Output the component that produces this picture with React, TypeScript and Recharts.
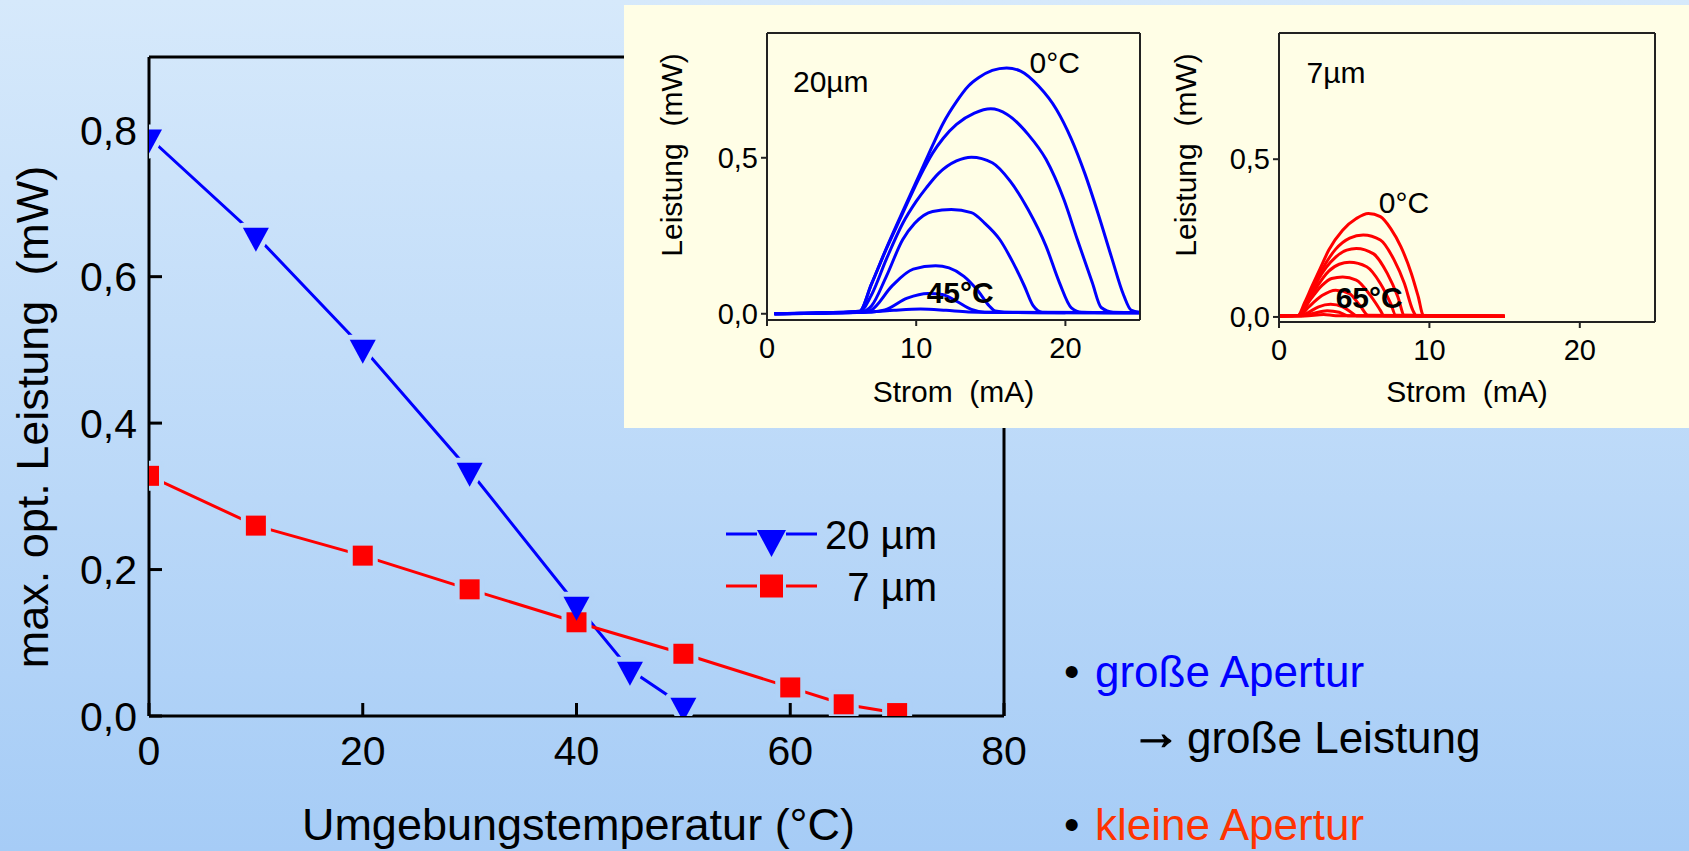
import React from "react";
import { LineChart, Line, XAxis, YAxis, Legend, ReferenceDot } from "recharts";

const FONT = '"Liberation Sans", Arial, Helvetica, sans-serif';
const BLUE = "#0000ff";
const RED = "#ff0000";

// main plot: max. optical power vs ambient temperature
const temps20 = [0, 10, 20, 30, 40, 45, 50];
const power20 = [0.79, 0.656, 0.503, 0.335, 0.152, 0.063, 0.014];
const temps7 = [0, 10, 20, 30, 40, 50, 60, 65, 70];
const power7 = [0.328, 0.26, 0.219, 0.173, 0.128, 0.085, 0.039, 0.016, 0.004];

const tempTicks = [0, 20, 40, 60, 80];
const tempMinor = [10, 30, 50, 70];
const powerTicks = [0, 0.2, 0.4, 0.6, 0.8];
const powerMinor = [0.1, 0.3, 0.5, 0.7];

// inset curves, [current mA, power mW], 20 µm aperture at 0..50 °C
const c20_0 = [[0.5, 0], [3, 0.002], [6.2, 0.008], [7, 0.095], [8, 0.21], [9, 0.318], [10.3, 0.455], [11.1, 0.54], [11.8, 0.61], [12.7, 0.68], [13.5, 0.73], [14.2, 0.757], [15.1, 0.78], [16.06, 0.788], [17, 0.778], [18.2, 0.73], [19.4, 0.655], [20.4, 0.56], [21.3, 0.45], [22.2, 0.32], [23.1, 0.18], [23.9, 0.06], [24.4, 0.012], [25, 0.005]];
const c20_10 = [[0.5, 0], [3, 0.002], [6.2, 0.008], [7, 0.095], [8, 0.208], [9, 0.312], [10.3, 0.445], [11.1, 0.515], [11.8, 0.562], [12.7, 0.607], [13.9, 0.643], [15, 0.657], [16.1, 0.639], [17.5, 0.575], [18.7, 0.495], [19.9, 0.366], [20.8, 0.238], [21.8, 0.1], [22.4, 0.02], [23.2, 0.005], [25, 0.004]];
const c20_20 = [[0.5, 0], [3, 0.002], [6.2, 0.006], [7, 0.06], [8, 0.175], [9.1, 0.29], [10, 0.36], [10.7, 0.405], [11.5, 0.45], [12.7, 0.49], [13.7, 0.502], [15.1, 0.484], [16.3, 0.425], [17.5, 0.334], [18.7, 0.217], [19.6, 0.1], [20.4, 0.019], [21.1, 0.005], [25, 0.003]];
const c20_30 = [[0.5, 0], [3, 0.002], [6.3, 0.006], [7, 0.025], [8, 0.12], [9.1, 0.238], [9.9, 0.29], [11.1, 0.328], [12.35, 0.334], [13.7, 0.324], [14.6, 0.29], [15.6, 0.238], [16.5, 0.163], [17.25, 0.089], [17.85, 0.025], [18.45, 0.005], [25, 0.003]];
const c20_40 = [[0.5, 0], [3, 0.002], [6.5, 0.005], [7, 0.012], [8.4, 0.09], [9.8, 0.143], [11.3, 0.154], [12.2, 0.147], [13.2, 0.12], [14.15, 0.073], [14.9, 0.025], [15.3, 0.009], [16.5, 0.004], [25, 0.003]];
const c20_45 = [[0.5, 0], [3, 0.002], [7, 0.006], [7.9, 0.012], [9.4, 0.05], [10.8, 0.065], [11.75, 0.062], [12.7, 0.04], [13.7, 0.014], [14.6, 0.005], [25, 0.003]];
const c20_50 = [[0.5, 0], [3, 0.002], [7, 0.006], [8.5, 0.011], [10.3, 0.015], [12, 0.011], [13.5, 0.006], [20, 0.003]];

// 7 µm aperture at 0..70 °C
const c7_0 = [[0, 0.003], [1.26, 0.005], [1.7, 0.045], [2.17, 0.095], [2.75, 0.155], [3.31, 0.212], [4.23, 0.275], [5.14, 0.312], [5.94, 0.328], [6.74, 0.318], [7.43, 0.28], [8.11, 0.222], [8.8, 0.138], [9.26, 0.064], [9.6, 0.005], [15, 0.002]];
const c7_10 = [[0, 0.003], [1.26, 0.005], [2.17, 0.085], [2.86, 0.15], [3.77, 0.215], [4.7, 0.25], [5.6, 0.26], [6.74, 0.244], [7.66, 0.18], [8.34, 0.106], [8.9, 0.021], [9.14, 0.004], [15, 0.002]];
const c7_20 = [[0, 0.003], [1.3, 0.005], [2.17, 0.075], [2.63, 0.12], [3.77, 0.19], [4.5, 0.212], [5.14, 0.217], [6.29, 0.2], [7.2, 0.138], [7.9, 0.064], [8.34, 0.005], [15, 0.002]];
const c7_30 = [[0, 0.003], [1.3, 0.005], [2.17, 0.07], [3.31, 0.145], [4.0, 0.167], [4.69, 0.173], [5.83, 0.159], [6.74, 0.106], [7.43, 0.042], [7.77, 0.005], [15, 0.002]];
const c7_40 = [[0, 0.003], [1.35, 0.005], [1.94, 0.045], [2.86, 0.1], [3.5, 0.122], [4.23, 0.127], [5.14, 0.117], [6.06, 0.069], [6.74, 0.021], [6.97, 0.004], [15, 0.002]];
const c7_50 = [[0, 0.003], [1.4, 0.005], [1.94, 0.03], [2.86, 0.068], [3.77, 0.085], [4.69, 0.074], [5.37, 0.037], [5.94, 0.005], [15, 0.002]];
const c7_60 = [[0, 0.003], [1.5, 0.004], [1.94, 0.014], [2.63, 0.032], [3.43, 0.04], [4.23, 0.032], [4.91, 0.011], [5.14, 0.004], [15, 0.002]];
const c7_65 = [[0, 0.003], [1.6, 0.004], [2.2, 0.01], [3.2, 0.02], [4.0, 0.015], [4.57, 0.004], [15, 0.002]];
const c7_70 = [[0, 0.003], [1.7, 0.003], [2.97, 0.008], [3.77, 0.004], [15, 0.002]];

const curves20 = [c20_0, c20_10, c20_20, c20_30, c20_40, c20_45, c20_50];
const curves7 = [c7_0, c7_10, c7_20, c7_30, c7_40, c7_50, c7_60, c7_65, c7_70];

const currentTicks = [0, 10, 20];
const currentMinor = [5, 15, 25];
const insetTicks = [0, 0.5];
const insetMinor = [0.25, 0.75];

const data20 = temps20.map((t, i) => ({ t, p: power20[i] }));
const data7 = temps7.map((t, i) => ({ t, p: power7[i] }));
const pts = (pairs: number[][]) => pairs.map(([i, p]) => ({ i, p }));

const comma = (v: number) => v.toFixed(1).replace(".", ",");

// page background gradient, also used for the gaps around markers
const BG0 = [214, 233, 251];
const BG1 = [166, 204, 246];
function bgAt(y: number) {
  const t = Math.max(0, Math.min(1, y / 851));
  return `rgb(${BG0.map((v, k) => Math.round(v + (BG1[k] - v) * t)).join(",")})`;
}

const triPts = (cx: number, cy: number, w: number, h: number) =>
  `${cx - w / 2},${cy - h / 3} ${cx + w / 2},${cy - h / 3} ${cx},${cy + (2 * h) / 3}`;

const triHalo = (p: any) => {
  const c = bgAt(p.cy);
  return <polygon key={`th${p.index}`} points={triPts(p.cx, p.cy, 26, 24)} fill={c} stroke={c} strokeWidth={10} strokeLinejoin="round" />;
};
const triDot = (p: any) => <polygon key={`t${p.index}`} points={triPts(p.cx, p.cy, 26, 24)} fill={BLUE} />;
const sqHalo = (p: any) => {
  const c = bgAt(p.cy);
  return <rect key={`sh${p.index}`} x={p.cx - 10} y={p.cy - 10} width={20} height={20} fill={c} stroke={c} strokeWidth={10} strokeLinejoin="round" />;
};
const sqDot = (p: any) => <rect key={`s${p.index}`} x={p.cx - 10} y={p.cy - 10} width={20} height={20} fill={RED} />;

type FrameOpts = {
  xKey: string;
  xDomain: [number, number];
  yDomain: [number, number];
  xMajor: number[];
  xMinor: number[];
  yMajor: number[];
  yMinor: number[];
  stroke: string;
  sw: number;
  major: number;
  minor: number;
  outward: boolean;
  fontSize: number;
  xMargin: number;
  yMargin: number;
  xLabel: any;
  yLabel: any;
};

// box frame: labelled bottom/left axes, plain top/right axes, minor ticks on all four sides
function frame(o: FrameOpts) {
  const line = { stroke: o.stroke, strokeWidth: o.sw };
  const s = o.outward ? 1 : -1;
  const font = { fontSize: o.fontSize, fill: "#000", fontFamily: FONT };
  const common = { type: "number" as const, allowDataOverflow: true, interval: 0 as const, tickLine: line };
  return [
    <XAxis key="x" xAxisId="x" dataKey={o.xKey} {...common} domain={o.xDomain} ticks={o.xMajor} height={1} tickSize={s * o.major} tickMargin={o.xMargin} axisLine={line} tick={font} label={o.xLabel} />,
    <XAxis key="xm" xAxisId="xm" {...common} domain={o.xDomain} ticks={o.xMinor} height={1} tickSize={s * o.minor} axisLine={false} tick={false} />,
    <XAxis key="xt" xAxisId="xt" orientation="top" {...common} domain={o.xDomain} ticks={o.xMajor} height={1} tickSize={-o.major} axisLine={line} tick={false} />,
    <XAxis key="xtm" xAxisId="xtm" orientation="top" {...common} domain={o.xDomain} ticks={o.xMinor} height={1} tickSize={-o.minor} axisLine={false} tick={false} />,
    <YAxis key="y" yAxisId="y" {...common} domain={o.yDomain} ticks={o.yMajor} width={1} tickSize={s * o.major} tickMargin={o.yMargin} axisLine={line} tick={font} tickFormatter={comma} label={o.yLabel} />,
    <YAxis key="ym" yAxisId="ym" {...common} domain={o.yDomain} ticks={o.yMinor} width={1} tickSize={s * o.minor} axisLine={false} tick={false} />,
    <YAxis key="yr" yAxisId="yr" orientation="right" {...common} domain={o.yDomain} ticks={o.yMajor} width={1} tickSize={-o.major} axisLine={line} tick={false} />,
    <YAxis key="yrm" yAxisId="yrm" orientation="right" {...common} domain={o.yDomain} ticks={o.yMinor} width={1} tickSize={-o.minor} axisLine={false} tick={false} />,
  ];
}

const xTitle = (text: string, dy: number, size: number, dx = 0) => (p: any) => {
  const vb = p.viewBox || {};
  return (
    <text x={vb.x + vb.width / 2 + dx} y={vb.y + dy} textAnchor="middle" fontSize={size} fontFamily={FONT} fill="#000" style={{ whiteSpace: "pre" }}>
      {text}
    </text>
  );
};
const yTitle = (text: string, dx: number, dy: number, size: number) => (p: any) => {
  const vb = p.viewBox || {};
  const cx = vb.x + vb.width - dx;
  const cy = vb.y + dy;
  return (
    <text x={cx} y={cy} transform={`rotate(-90 ${cx} ${cy})`} textAnchor="middle" dominantBaseline="central" fontSize={size} fontFamily={FONT} fill="#000" style={{ whiteSpace: "pre" }}>
      {text}
    </text>
  );
};
const note = (text: string, bold = false) => (p: any) => {
  const vb = p.viewBox || {};
  return (
    <text x={vb.x} y={vb.y} fontSize={30} fontWeight={bold ? "bold" : "normal"} fontFamily={FONT} fill="#000">
      {text}
    </text>
  );
};

function MainLegend(props: any) {
  const items = (props.payload || []).filter((it: any) => it.type !== "none");
  return (
    <svg width={230} height={110} style={{ overflow: "visible" }}>
      {items.map((it: any, i: number) => {
        const cy = 29 + i * 52;
        const tri = it.value === "20 µm";
        const col = tri ? BLUE : RED;
        return (
          <g key={it.value}>
            <line x1={6} x2={37} y1={cy} y2={cy} stroke={col} strokeWidth={3} />
            <line x1={66} x2={97} y1={cy} y2={cy} stroke={col} strokeWidth={3} />
            {tri ? (
              <polygon points={triPts(51.5, cy + 5, 29, 27)} fill={col} />
            ) : (
              <rect x={40} y={cy - 11.5} width={23} height={23} fill={col} />
            )}
            <text x={217} y={cy + 15} textAnchor="end" fontSize={40} fontFamily={FONT} fill="#000">
              {it.value}
            </text>
          </g>
        );
      })}
    </svg>
  );
}

type InsetProps = {
  curves: number[][][];
  color: string;
  width: number;
  margin: { top: number; left: number; right: number; bottom: number };
  yDomain: [number, number];
  yTitleDx: number;
  xTitleDy: number;
  notes: { x: number; y: number; text: string; bold?: boolean }[];
};

function Inset({ curves, color, width, margin, yDomain, yTitleDx, xTitleDy, notes }: InsetProps) {
  return (
    <LineChart width={width} height={423} margin={margin}>
      {frame({
        xKey: "i",
        xDomain: [0, 25],
        yDomain,
        xMajor: currentTicks,
        xMinor: currentMinor,
        yMajor: insetTicks,
        yMinor: insetMinor,
        stroke: "#222",
        sw: 2,
        major: 6,
        minor: 3,
        outward: true,
        fontSize: 29,
        xMargin: 11,
        yMargin: 3,
        xLabel: xTitle("Strom  (mA)", xTitleDy, 30),
        yLabel: yTitle("Leistung  (mW)", yTitleDx, 122, 30),
      })}
      {curves.map((c, k) => (
        <Line key={k} xAxisId="x" yAxisId="y" data={pts(c)} dataKey="p" type="monotone" stroke={color} strokeWidth={3} dot={false} activeDot={false} isAnimationActive={false} />
      ))}
      {notes.map((n) => (
        <ReferenceDot key={n.text} xAxisId="x" yAxisId="y" x={n.x} y={n.y} r={0} fill="none" stroke="none" label={note(n.text, n.bold)} />
      ))}
    </LineChart>
  );
}

export default function App() {
  return (
    <div style={{ position: "absolute", left: 0, top: 0, width: 1689, height: 851, overflow: "hidden", background: "linear-gradient(180deg, rgb(214,233,251) 0%, rgb(166,204,246) 100%)" }}>
      <div style={{ position: "absolute", left: 0, top: 0 }}>
        <LineChart width={1689} height={851} margin={{ top: 55, left: 147, right: 683, bottom: 133 }}>
          {frame({
            xKey: "t",
            xDomain: [0, 80],
            yDomain: [0, 0.9],
            xMajor: tempTicks,
            xMinor: tempMinor,
            yMajor: powerTicks,
            yMinor: powerMinor,
            stroke: "#000",
            sw: 3,
            major: 13,
            minor: 7,
            outward: false,
            fontSize: 41,
            xMargin: 33,
            yMargin: 25,
            xLabel: xTitle("Umgebungstemperatur (°C)", 124, 45, 2),
            yLabel: yTitle("max. opt. Leistung  (mW)", 117, 360, 45),
          })}
          <Line xAxisId="x" yAxisId="y" data={data20} dataKey="p" name="20 µm" stroke={BLUE} strokeWidth={3} dot={false} activeDot={false} isAnimationActive={false} />
          <Line xAxisId="x" yAxisId="y" data={data20} dataKey="p" legendType="none" stroke="none" dot={triHalo} activeDot={false} isAnimationActive={false} />
          <Line xAxisId="x" yAxisId="y" data={data7} dataKey="p" name="7 µm" stroke={RED} strokeWidth={3} dot={false} activeDot={false} isAnimationActive={false} />
          <Line xAxisId="x" yAxisId="y" data={data7} dataKey="p" legendType="none" stroke="none" dot={sqHalo} activeDot={false} isAnimationActive={false} />
          <Line xAxisId="x" yAxisId="y" data={data7} dataKey="p" legendType="none" stroke="none" dot={sqDot} activeDot={false} isAnimationActive={false} />
          <Line xAxisId="x" yAxisId="y" data={data20} dataKey="p" legendType="none" stroke="none" dot={triDot} activeDot={false} isAnimationActive={false} />
          <Legend layout="vertical" align="center" verticalAlign="middle" wrapperStyle={{ left: 720, top: 505, width: 230, height: 110 }} content={MainLegend} />
        </LineChart>
      </div>

      <div style={{ position: "absolute", left: 624, top: 5, width: 1065, height: 423, background: "#fffee6" }} />
      <div style={{ position: "absolute", left: 624, top: 5 }}>
        <Inset
          curves={curves20}
          color={BLUE}
          width={536}
          margin={{ top: 26, left: 141, right: 18, bottom: 106 }}
          yDomain={[-0.02, 0.9]}
          yTitleDx={96}
          xTitleDy={82}
          notes={[
            { x: 1.74, y: 0.712, text: "20µm" },
            { x: 17.6, y: 0.773, text: "0°C" },
            { x: 10.7, y: 0.035, text: "45°C", bold: true },
          ]}
        />
      </div>
      <div style={{ position: "absolute", left: 1160, top: 5 }}>
        <Inset
          curves={curves7}
          color={RED}
          width={529}
          margin={{ top: 26, left: 117, right: 32, bottom: 104 }}
          yDomain={[-0.016, 0.9]}
          yTitleDx={94}
          xTitleDy={80}
          notes={[
            { x: 1.83, y: 0.74, text: "7µm" },
            { x: 6.63, y: 0.329, text: "0°C" },
            { x: 3.77, y: 0.028, text: "65°C", bold: true },
          ]}
        />
      </div>

      <svg width={1689} height={851} style={{ position: "absolute", left: 0, top: 0, pointerEvents: "none" }} fontFamily={FONT} fontSize={44}>
        <text x={1064} y={687} fill="#000">•</text>
        <text x={1095} y={687} fill={BLUE}>große Apertur</text>
        <text x={1131} y={749} fill="#000" stroke="#000" strokeWidth={1.2} fontSize={50}>→</text>
        <text x={1187} y={753} fill="#000">große Leistung</text>
        <text x={1064} y={840} fill="#000">•</text>
        <text x={1095} y={840} fill="#ff3300">kleine Apertur</text>
      </svg>
    </div>
  );
}
